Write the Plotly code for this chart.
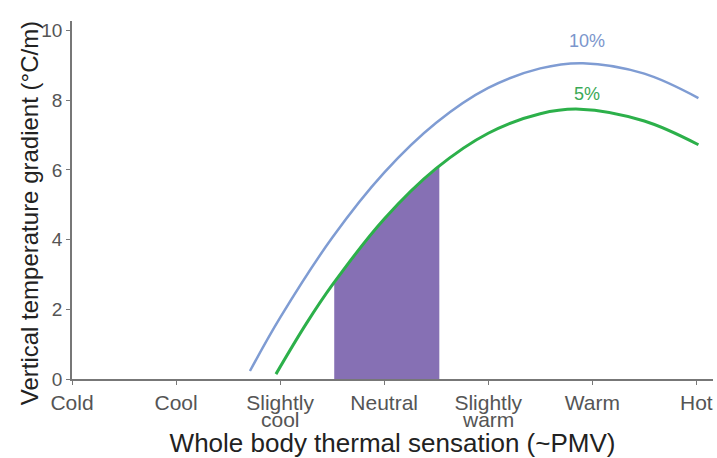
import plotly.graph_objects as go

# Thermal sensation scale (PMV-like), -3 .. +3
SENSATION_VALS = [-3, -2, -1, 0, 1, 2, 3]
SENSATION_LABELS = ["Cold", "Cool", "Slightly", "Neutral", "Slightly", "Warm", "Hot"]
# second line under the two "Slightly" labels
SECOND_LINE = {-1: "cool", 1: "warm"}

# 10% dissatisfied curve
PMV_10 = [-1.29, -1.0, -0.5, 0.0, 0.5, 1.0, 1.5, 1.91, 2.5, 3.02]
GRAD_10 = [0.23, 1.76, 4.05, 5.92, 7.35, 8.35, 8.91, 9.06, 8.76, 8.06]

# 5% dissatisfied curve
PMV_5 = [-1.04, -0.75, -0.5, 0.0, 0.5, 1.0, 1.5, 1.88, 2.5, 3.02]
GRAD_5 = [0.14, 1.58, 2.69, 4.59, 6.04, 7.05, 7.61, 7.74, 7.40, 6.72]

# shaded comfort zone under the 5% curve
ZONE_PMV = [-0.48, -0.25, 0.0, 0.25, 0.53]
ZONE_GRAD = [2.72, 3.70, 4.59, 5.37, 6.08]

BLUE = "#7f9cd3"
GREEN = "#2cb04a"
PURPLE = "#8670b4"
TICK_GREY = "#555"
FONT = "Liberation Sans, Arial, sans-serif"

fig = go.Figure()

fig.add_trace(go.Scatter(
    x=ZONE_PMV + [ZONE_PMV[-1], ZONE_PMV[0]],
    y=ZONE_GRAD + [0, 0],
    fill="toself", fillcolor=PURPLE, mode="none", hoverinfo="skip",
))
fig.add_trace(go.Scatter(
    x=PMV_10, y=GRAD_10, mode="lines", line_shape="spline",
    line=dict(color=BLUE, width=2.5),
))
fig.add_trace(go.Scatter(
    x=PMV_5, y=GRAD_5, mode="lines", line_shape="spline",
    line=dict(color=GREEN, width=3),
))

fig.add_annotation(x=1.95, y=9.71, text="10%", showarrow=False,
                   font=dict(color="#7b96cc", size=18, family=FONT))
fig.add_annotation(x=1.95, y=8.17, text="5%", showarrow=False,
                   font=dict(color="#3aa956", size=18, family=FONT))

for xv, txt in SECOND_LINE.items():
    fig.add_annotation(x=xv, xref="x", y=-0.113, yref="paper", yanchor="middle",
                       text=txt, showarrow=False,
                       font=dict(size=21, color=TICK_GREY, family=FONT))

# y title as an annotation so it sits a little lower, like the original
fig.add_annotation(x=-0.066, xref="paper", y=0.462, yref="paper",
                   text="Vertical temperature gradient (°C/m)", textangle=-90,
                   showarrow=False, xanchor="center", yanchor="middle",
                   font=dict(size=24, color="#222", family=FONT))

fig.update_xaxes(
    range=[-3.0, 3.16], tickvals=SENSATION_VALS, ticktext=SENSATION_LABELS,
    showgrid=False, zeroline=False, showline=True, linecolor="#777",
    linewidth=1.5, ticks="outside", ticklen=4, tickcolor="#777",
    tickfont=dict(size=21, color=TICK_GREY, family=FONT), automargin=False,
    title=dict(text="Whole body thermal sensation (~PMV)",
               font=dict(size=26, color="#222", family=FONT), standoff=25),
)
fig.update_yaxes(
    range=[0, 10.27], tickvals=[0, 2, 4, 6, 8, 10],
    showgrid=False, zeroline=False, showline=True, linecolor="#777",
    linewidth=1.5, ticks="outside", ticklen=4, tickcolor="#777",
    tickfont=dict(size=19, color=TICK_GREY, family=FONT), automargin=False,
)
fig.update_layout(
    width=717, height=458, showlegend=False,
    plot_bgcolor="white", paper_bgcolor="white",
    margin=dict(l=72, r=4, t=21, b=79),
)

# drop the browser's default body margin so the figure fills the window
fig.write_html("out.html", config={"displayModeBar": False},
               post_script="document.body.style.margin='0';")
